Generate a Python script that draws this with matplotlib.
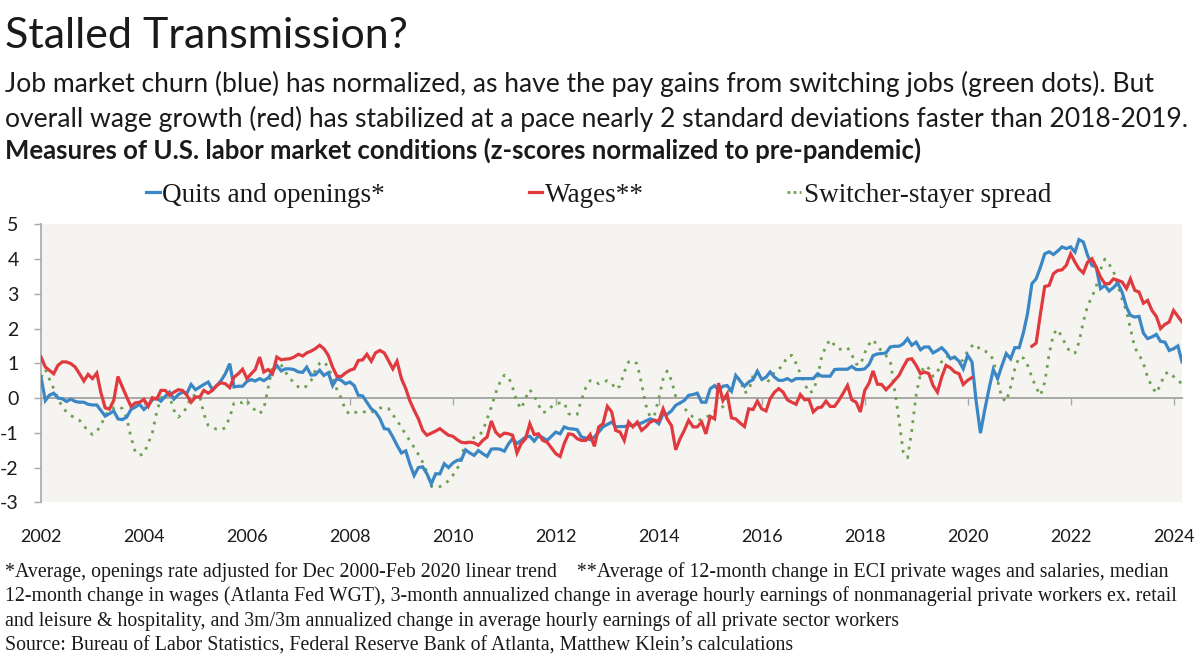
import numpy as np
import pandas as pd
import matplotlib
matplotlib.use("Agg")
import matplotlib.pyplot as plt
from matplotlib.lines import Line2D

# Colours and fonts
BLUE = "#3B87C6"
RED = "#E0393E"
GREEN = "#6E9F52"
BG = "#F5F4F1"
AXIS_GRAY = "#A8A8A8"
TEXT = "#1a1a1a"
SANS = ["Lato", "DejaVu Sans"]
SERIF = ["Liberation Serif", "DejaVu Serif"]

# Monthly data, Jan 2002 - Mar 2024 (z-scores)
start_month = "2002-01-01"

quits_openings = [
    0.6, -0.07, 0.08, 0.14, 0.0, -0.02, -0.1, -0.03, -0.1, -0.12, -0.12, -0.18,
    -0.2, -0.2, -0.35, -0.52, -0.45, -0.37, -0.6, -0.62, -0.55, -0.33, -0.26, -0.18,
    -0.33, -0.21, -0.05, 0.0, -0.09, 0.05, 0.17, -0.03, 0.1, 0.17, 0.14, 0.39,
    0.24, 0.32, 0.39, 0.46, 0.24, 0.36, 0.5, 0.7, 0.99, 0.32, 0.34, 0.34,
    0.48, 0.53, 0.49, 0.56, 0.5, 0.58, 0.75, 0.94, 0.78, 0.84, 0.84, 0.82,
    0.75, 0.74, 0.89, 0.66, 0.67, 0.8, 0.65, 0.73, 0.36, 0.56, 0.51, 0.41,
    0.46, 0.36, 0.08, 0.06, -0.12, -0.31, -0.4, -0.59, -0.88, -0.9, -1.12, -1.36,
    -1.58, -1.52, -1.89, -2.23, -2.0, -1.98, -2.18, -2.47, -2.18, -2.18, -1.89, -2.0,
    -1.87, -1.79, -1.79, -1.49, -1.58, -1.65, -1.51, -1.6, -1.68, -1.47, -1.46, -1.47,
    -1.53, -1.31, -1.17, -1.31, -1.22, -1.12, -1.1, -1.24, -1.08, -1.14, -1.22, -1.1,
    -0.98, -1.03, -0.83, -0.88, -0.89, -0.91, -1.12, -1.15, -1.2, -1.12, -0.98, -0.83,
    -0.76, -0.69, -0.83, -0.82, -0.82, -0.79, -0.79, -0.74, -0.72, -0.66, -0.6, -0.64,
    -0.74, -0.45, -0.47, -0.37, -0.21, -0.14, -0.07, 0.08, 0.1, 0.14, -0.12, -0.12,
    0.27, 0.36, 0.22, 0.34, 0.36, 0.2, 0.65, 0.49, 0.34, 0.46, 0.53, 0.77,
    0.54, 0.6, 0.75, 0.6, 0.51, 0.51, 0.56, 0.49, 0.56, 0.56, 0.56, 0.56,
    0.56, 0.7, 0.63, 0.63, 0.63, 0.82, 0.83, 0.83, 0.83, 0.91, 0.82, 0.82,
    0.84, 0.97, 1.22, 1.27, 1.28, 1.3, 1.47, 1.49, 1.49, 1.56, 1.71, 1.52,
    1.61, 1.39, 1.47, 1.47, 1.3, 1.37, 1.45, 1.32, 1.13, 1.18, 1.06, 0.84,
    1.23, 1.04, -0.07, -1.01, -0.35, 0.27, 0.82, 0.56, 0.94, 1.28, 1.13, 1.45,
    1.45, 1.9, 2.43, 3.29, 3.43, 3.77, 4.15, 4.21, 4.13, 4.23, 4.35, 4.3,
    4.35, 4.2, 4.56, 4.49, 4.11, 3.82, 3.77, 3.15, 3.24, 3.08, 3.18, 3.31,
    3.05, 2.62, 2.38, 2.33, 2.35, 1.87, 1.71, 1.76, 1.83, 1.63, 1.61, 1.37,
    1.42, 1.5, 1.04,
]

nan = np.nan
wages = [
    1.18, 0.89, 0.8, 0.7, 0.94, 1.04, 1.04, 0.99, 0.89, 0.7, 0.49, 0.68,
    0.56, 0.72, 0.17, -0.28, -0.32, -0.07, 0.62, 0.32, 0.03, -0.24, -0.14, -0.12,
    -0.04, -0.24, 0.01, -0.03, 0.22, 0.22, 0.08, 0.17, 0.24, 0.22, 0.08, -0.12,
    0.03, 0.03, 0.22, 0.14, 0.22, 0.36, 0.44, 0.41, 0.3, 0.6, 0.7, 0.83,
    0.56, 0.7, 0.82, 1.18, 0.75, 0.82, 0.7, 1.18, 1.1, 1.12, 1.13, 1.18,
    1.26, 1.21, 1.3, 1.35, 1.42, 1.52, 1.42, 1.23, 0.89, 0.63, 0.62, 0.72,
    0.8, 0.84, 1.08, 1.1, 1.26, 1.06, 1.3, 1.37, 1.3, 1.08, 0.84, 1.06,
    0.56, 0.27, -0.07, -0.35, -0.59, -0.93, -1.07, -1.01, -0.95, -0.88, -0.98, -1.07,
    -1.1, -1.2, -1.27, -1.29, -1.27, -1.29, -1.36, -1.22, -1.12, -0.66, -0.98, -1.1,
    -1.01, -1.03, -1.07, -1.58, -1.31, -1.17, -0.74, -1.05, -1.03, -1.22, -1.27, -1.43,
    -1.6, -1.68, -1.31, -1.03, -1.05, -1.17, -1.22, -1.22, -1.05, -1.39, -0.83, -0.74,
    -0.24, -0.4, -0.93, -0.98, -1.22, -0.69, -0.83, -0.69, -0.93, -0.83, -0.69, -0.64,
    -0.66, -0.31, -0.6, -0.79, -1.49, -1.17, -0.93, -0.64, -0.83, -0.83, -0.69, -1.03,
    -0.53, -0.6, 0.43, -0.07, 0.12, -0.57, -0.6, -0.72, -0.82, -0.31, -0.33, -0.09,
    -0.31, -0.37, -0.02, 0.17, 0.27, 0.17, -0.05, -0.12, -0.18, 0.1, -0.05, -0.04,
    -0.4, -0.28, -0.26, -0.09, -0.24, -0.24, -0.07, 0.14, 0.36, -0.05, -0.12, -0.4,
    0.22, 0.43, 0.78, 0.4, 0.39, 0.24, 0.36, 0.51, 0.65, 0.89, 1.11, 1.13,
    0.94, 0.7, 0.75, 0.7, 0.36, 0.17, 0.6, 0.94, 0.87, 0.75, 0.7, 0.39,
    0.51, 0.59, nan, nan, nan, nan, nan, nan, nan, nan, nan, nan,
    nan, nan, nan, 1.49, 1.58, 2.43, 3.21, 3.24, 3.58, 3.67, 3.69, 3.82,
    4.15, 3.91, 3.72, 3.6, 3.91, 4.01, 3.77, 3.48, 3.29, 3.29, 3.43, 3.39,
    3.34, 3.15, 3.43, 3.1, 3.05, 2.73, 2.81, 2.52, 2.35, 2.0, 2.12, 2.19,
    2.52, 2.35, 2.19,
]

switcher_spread = [
    0.6, 0.82, 0.55, 0.27, 0.0, -0.26, -0.4, -0.5, -0.58, -0.64, -0.8, -0.95,
    -1.05, -0.95, -0.8, -0.5, -0.35, -0.28, -0.25, -0.3, -0.57, -1.12, -1.55, -1.65,
    -1.6, -1.3, -1.0, -0.4, 0.0, 0.15, 0.05, -0.35, -0.55, -0.45, -0.26, 0.05,
    0.08, 0.05, -0.45, -0.79, -0.85, -0.9, -0.92, -0.85, -0.55, -0.15, -0.1, -0.14,
    -0.07, -0.26, -0.35, -0.45, -0.31, 0.3, 0.9, 1.08, 0.95, 0.75, 0.56, 0.45,
    0.32, 0.27, 0.35, 0.5, 0.8, 1.0, 1.05, 0.89, 0.56, 0.25, 0.0, -0.35,
    -0.47, -0.43, -0.38, -0.38, -0.43, -0.42, -0.34, -0.29, -0.26, -0.3, -0.48, -0.64,
    -0.85, -1.05, -1.22, -1.42, -1.62, -1.85, -2.13, -2.54, -2.58, -2.55, -2.48, -2.38,
    -2.22, -2.05, -1.7, -1.3, -1.18, -1.14, -1.1, -0.95, -0.6, -0.26, 0.15, 0.45,
    0.66, 0.6, 0.3, -0.12, -0.31, 0.0, 0.24, 0.06, -0.2, -0.42, -0.38, -0.25,
    -0.16, -0.14, -0.13, -0.45, -0.5, -0.47, -0.05, 0.3, 0.5, 0.5, 0.41, 0.46,
    0.5, 0.43, 0.25, 0.35, 0.75, 1.04, 1.08, 0.98, 0.41, -0.2, -0.55, -0.5,
    0.0, 0.55, 0.78, 0.51, 0.05, -0.15, -0.3, -0.42, -0.55, -0.63, -0.62, -0.56,
    -0.48, -0.38, -0.3, -0.25, 0.12, 0.3, 0.6, 0.55, 0.15, 0.2, 0.65, 0.78,
    0.56, 0.42, 0.55, 0.75, 0.83, 0.95, 1.2, 1.23, 1.0, 0.7, 0.42, 0.15,
    0.2, 0.6, 1.18, 1.5, 1.68, 1.52, 1.4, 1.42, 1.45, 1.25, 0.98, 0.95,
    1.3, 1.55, 1.68, 1.5, 1.35, 1.22, 1.08, 0.22, -0.62, -1.55, -1.72, -0.93,
    0.1, 0.7, 0.93, 0.85, 0.62, 0.75, 1.05, 1.2, 1.18, 1.18, 1.02, 1.1,
    1.35, 1.5, 1.55, 1.37, 1.35, 1.3, 1.1, 0.5, 0.0, -0.1, 0.32, 0.85,
    1.18, 1.15, 0.95, 0.6, 0.3, 0.08, 0.45, 1.25, 1.85, 1.98, 1.75, 1.5,
    1.3, 1.3, 1.6, 2.2, 2.65, 2.91, 3.2, 3.7, 4.0, 3.85, 3.65, 3.25,
    2.85, 2.5, 2.0, 1.45, 1.25, 1.0, 0.6, 0.32, 0.14, 0.4, 0.7, 0.75,
    0.62, 0.5, 0.42,
]

year_ticks = list(range(2002, 2025, 2))
y_ticks = list(range(-3, 6))

series_labels = ["Quits and openings*", "Wages**", "Switcher-stayer spread"]

title = "Stalled Transmission?"
subtitle = ["Job market churn (blue) has normalized, as have the pay gains from switching jobs (green dots). But",
            "overall wage growth (red) has stabilized at a pace nearly 2 standard deviations faster than 2018-2019."]
chart_title = "Measures of U.S. labor market conditions (z-scores normalized to pre-pandemic)"
footnotes = [
    "*Average, openings rate adjusted for Dec 2000-Feb 2020 linear trend    **Average of 12-month change in ECI private wages and salaries, median",
    "12-month change in wages (Atlanta Fed WGT), 3-month annualized change in average hourly earnings of nonmanagerial private workers ex. retail",
    "and leisure & hospitality, and 3m/3m annualized change in average hourly earnings of all private sector workers",
    "Source: Bureau of Labor Statistics, Federal Reserve Bank of Atlanta, Matthew Klein\u2019s calculations",
]

W, H = 1200, 660
months = pd.date_range(start_month, periods=len(quits_openings), freq="MS")

fig = plt.figure(figsize=(W / 100, H / 100), dpi=100)
fig.patch.set_facecolor("white")

# Plot area in pixel terms -> figure fraction
left, right, top, bottom = 41, 1182, 224.3, 502.3
ax = fig.add_axes([left / W, 1 - bottom / H, (right - left) / W, (bottom - top) / H])
ax.set_facecolor(BG)

ax.plot(months, switcher_spread, color=GREEN, lw=2.0, linestyle=(0, (1, 2.2)), zorder=3)
ax.plot(months, quits_openings, color=BLUE, lw=2.3, zorder=4, solid_joinstyle="miter")
ax.plot(months, wages, color=RED, lw=2.3, zorder=5, solid_joinstyle="miter")

ax.set_xlim(months[0], months[-1])
ax.set_ylim(min(y_ticks), max(y_ticks))

# y axis
ax.set_yticks(y_ticks)
ax.set_yticklabels([str(v) for v in y_ticks], fontsize=14, family=SANS, color=TEXT)
ax.tick_params(axis="y", length=5, width=1, color=AXIS_GRAY, pad=11)

# x axis labels at the bottom, tick marks on the zero line
tick_dates = [pd.Timestamp(f"{y}-01-01") for y in year_ticks]
ax.set_xticks(tick_dates)
ax.set_xticklabels([str(y) for y in year_ticks], fontsize=13, family=SANS, color=TEXT)
ax.tick_params(axis="x", length=0, pad=19)

for side in ["top", "right", "bottom"]:
    ax.spines[side].set_visible(False)
ax.spines["left"].set_color(AXIS_GRAY)
ax.spines["left"].set_linewidth(1.2)

zero_pos = (0 - min(y_ticks)) / (max(y_ticks) - min(y_ticks))
secax = ax.secondary_xaxis(zero_pos)
secax.set_xticks(tick_dates)
secax.set_xticklabels([])
secax.tick_params(axis="x", length=5, width=1, color=AXIS_GRAY, direction="out")
secax.spines["bottom"].set_color(AXIS_GRAY)
secax.spines["bottom"].set_linewidth(1.4)
secax.set_zorder(1)

# Titles
fig.text(5 / W, 1 - 48 / H, title, fontsize=31, family=SANS, fontweight="normal",
         color=TEXT, va="baseline", ha="left")
fig.text(5 / W, 1 - 92 / H, subtitle[0], fontsize=19.1, family=SANS, color=TEXT,
         va="baseline", ha="left")
fig.text(5 / W, 1 - 127 / H, subtitle[1], fontsize=19.1, family=SANS, color=TEXT,
         va="baseline", ha="left")
fig.text(5 / W, 1 - 159 / H, chart_title, fontsize=18.5, family=SANS, fontweight="bold",
         color=TEXT, va="baseline", ha="left")

# Legend
handles = [
    Line2D([0], [0], color=BLUE, lw=2.3),
    Line2D([0], [0], color=RED, lw=2.3),
    Line2D([0], [0], color=GREEN, lw=2.0, linestyle=(0, (1, 1.2))),
]
leg = fig.legend(handles, series_labels, ncol=3, loc="center left",
                 bbox_to_anchor=(146 / W, 1 - 195 / H), frameon=False,
                 prop={"family": SERIF, "size": 19.5}, handlelength=0.5,
                 handletextpad=0.1, columnspacing=5.3, borderpad=0, borderaxespad=0)
for t in leg.get_texts():
    t.set_color(TEXT)

# Footnotes
for i, line in enumerate(footnotes):
    fig.text(5 / W, 1 - (577 + 24.5 * i) / H, line, fontsize=14.3, family=SERIF,
             color=TEXT, va="baseline", ha="left")

fig.savefig("out.png", dpi=100, facecolor="white")
